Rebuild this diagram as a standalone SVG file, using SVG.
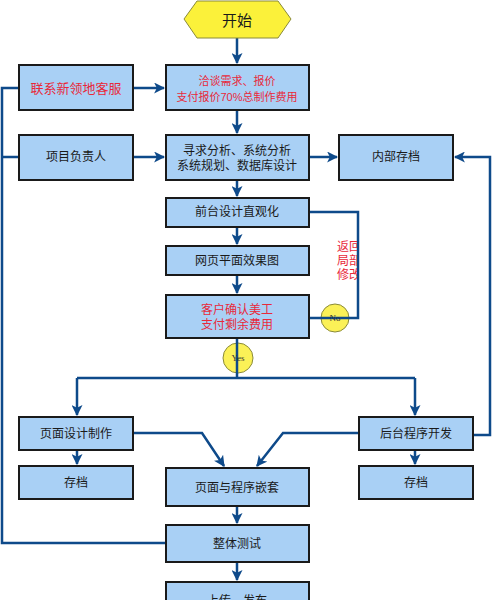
<svg xmlns="http://www.w3.org/2000/svg" width="500" height="600" viewBox="0 0 500 600">
<style>
.box{fill:#a9d0f5;stroke:#1a1a1a;stroke-width:2}
.t{font-family:"Liberation Sans","Noto Sans CJK SC",sans-serif;font-size:12px;fill:#1a1a1a;text-anchor:middle;dominant-baseline:central}
.r{fill:#e8293a}
.s{font-size:11px}
.c{fill:none;stroke:#0e4a8a;stroke-width:2.5}
.yn{fill:#fbf157;stroke:#8a8a3a;stroke-width:1}
.ynt{font-family:"Liberation Serif",serif;font-size:9px;fill:#333;text-anchor:middle;dominant-baseline:central}
</style>
<defs>
<marker id="ah" viewBox="0 0 10 10" refX="9" refY="5" markerWidth="4.4" markerHeight="4.4" orient="auto" markerUnits="strokeWidth">
<path d="M0,0 L10,5 L0,10 L2.5,5 Z" fill="#0e4a8a"/>
</marker>
<clipPath id="clipR"><rect x="300" y="230" width="57" height="60"/></clipPath>
</defs>
<rect width="500" height="600" fill="#fff"/>

<g id="yesno-bg">
<circle class="yn" cx="335" cy="318" r="14"/>
<circle class="yn" cx="238" cy="358" r="15"/>
</g>

<g id="connectors">
<path class="c" d="M237,38 V63" marker-end="url(#ah)"/>
<path class="c" d="M133,88 H164" marker-end="url(#ah)"/>
<path class="c" d="M237,110 V133" marker-end="url(#ah)"/>
<path class="c" d="M133,157 H164" marker-end="url(#ah)"/>
<path class="c" d="M309,157 H337" marker-end="url(#ah)"/>
<path class="c" d="M237,180 V196" marker-end="url(#ah)"/>
<path class="c" d="M237,227 V244" marker-end="url(#ah)"/>
<path class="c" d="M237,275 V293" marker-end="url(#ah)"/>
<path class="c" d="M309,212 H358 V318 H309"/>
<path class="c" d="M237,338 V378"/>
<path class="c" d="M77,378 H415"/>
<path class="c" d="M77,378 V415" marker-end="url(#ah)"/>
<path class="c" d="M415,378 V415" marker-end="url(#ah)"/>
<path class="c" d="M77,450 V464" marker-end="url(#ah)"/>
<path class="c" d="M415,450 V464" marker-end="url(#ah)"/>
<path class="c" d="M133,433 H202 L224,466" marker-end="url(#ah)"/>
<path class="c" d="M359,433 H283 L257,466" marker-end="url(#ah)"/>
<path class="c" d="M237,506 V523" marker-end="url(#ah)"/>
<path class="c" d="M237,562 V580" marker-end="url(#ah)"/>
<path class="c" d="M19,88 H2 V543 H166"/>
<path class="c" d="M19,157 H2"/>
<path class="c" d="M473,435 H490 V157 H455" marker-end="url(#ah)"/>
</g>

<g id="yesno-text">
<text class="ynt" x="335" y="318">No</text>
<text class="ynt" x="238" y="358">Yes</text>
</g>

<g id="return-label" clip-path="url(#clipR)">
<text class="t r" x="349" y="247">返回</text>
<text class="t r" x="349" y="261">局部</text>
<text class="t r" x="349" y="275">修改</text>
</g>

<g id="start">
<polygon points="184,19 197,1 278,1 291,19 278,38 197,38" fill="#fbf13a" stroke="#8a8a3a" stroke-width="1"/>
<text class="t" x="237" y="20" style="font-size:15px">开始</text>
</g>
<g id="n-kefu">
<rect class="box" x="19" y="65" width="114" height="45"/>
<text class="t r" x="76" y="88" style="font-size:13px">联系新领地客服</text>
</g>
<g id="n-qiatan">
<rect class="box" x="166" y="65" width="143" height="45"/>
<text class="t r s" x="237" y="81">洽谈需求、报价</text>
<text class="t r s" x="237" y="97">支付报价70%总制作费用</text>
</g>
<g id="n-fuzeren">
<rect class="box" x="19" y="135" width="114" height="45"/>
<text class="t" x="76" y="157">项目负责人</text>
</g>
<g id="n-fenxi">
<rect class="box" x="166" y="135" width="143" height="45"/>
<text class="t" x="237" y="151">寻求分析、系统分析</text>
<text class="t" x="237" y="166">系统规划、数据库设计</text>
</g>
<g id="n-neibu">
<rect class="box" x="339" y="135" width="114" height="45"/>
<text class="t" x="396" y="157">内部存档</text>
</g>
<g id="n-qiantai">
<rect class="box" x="166" y="198" width="143" height="29"/>
<text class="t" x="237" y="212">前台设计直观化</text>
</g>
<g id="n-wangye">
<rect class="box" x="166" y="246" width="143" height="29"/>
<text class="t" x="237" y="261">网页平面效果图</text>
</g>
<g id="n-kehu">
<rect class="box" x="166" y="295" width="143" height="43"/>
<text class="t r" x="237" y="310">客户确认美工</text>
<text class="t r" x="237" y="325">支付剩余费用</text>
</g>
<g id="n-yemian">
<rect class="box" x="19" y="417" width="114" height="33"/>
<text class="t" x="76" y="434">页面设计制作</text>
</g>
<g id="n-houtai">
<rect class="box" x="359" y="417" width="114" height="33"/>
<text class="t" x="416" y="434">后台程序开发</text>
</g>
<g id="n-cundang1">
<rect class="box" x="19" y="466" width="114" height="33"/>
<text class="t" x="76" y="483">存档</text>
</g>
<g id="n-cundang2">
<rect class="box" x="359" y="466" width="114" height="33"/>
<text class="t" x="416" y="483">存档</text>
</g>
<g id="n-qiantao">
<rect class="box" x="166" y="468" width="143" height="38"/>
<text class="t" x="237" y="488">页面与程序嵌套</text>
</g>
<g id="n-ceshi">
<rect class="box" x="166" y="525" width="143" height="37"/>
<text class="t" x="237" y="544">整体测试</text>
</g>
<g id="n-fabu">
<rect class="box" x="166" y="582" width="143" height="40"/>
<text class="t" x="237" y="601">上传、发布</text>
</g>
</svg>
